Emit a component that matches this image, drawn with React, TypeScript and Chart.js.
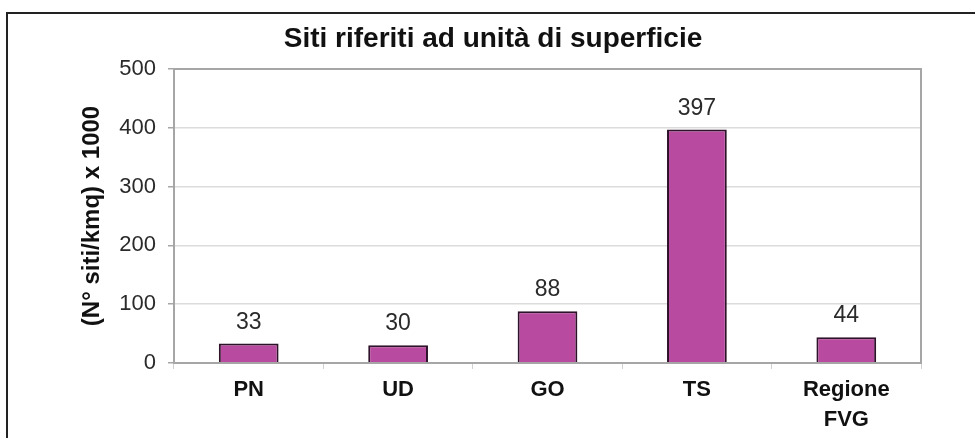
import React, { useEffect, useRef } from "react";
import { Chart, registerables } from "chart.js";

Chart.register(...registerables);

const categories: (string | string[])[] = ["PN", "UD", "GO", "TS", ["Regione", "FVG"]];
const values: number[] = [33, 30, 88, 397, 44];
const yTicks: number[] = [0, 100, 200, 300, 400, 500];
const titleText = "Siti riferiti ad unità di superficie";
const yAxisTitle = "(N° siti/kmq) x 1000";

const FONT = "'Liberation Sans', Arial, Helvetica, sans-serif";

export default function App() {
  const ref = useRef<HTMLCanvasElement | null>(null);

  useEffect(() => {
    if (!ref.current) return;
    const extras = {
      id: "extras",
      afterDraw(chart: any) {
        const { ctx, chartArea } = chart;
        ctx.save();
        ctx.strokeStyle = "#a6a6a6";
        ctx.lineWidth = 2;
        ctx.strokeRect(chartArea.left, chartArea.top, chartArea.right - chartArea.left, chartArea.bottom - chartArea.top);
        ctx.fillStyle = "#111";
        ctx.font = `bold 28px ${FONT}`;
        ctx.textAlign = "center";
        ctx.textBaseline = "alphabetic";
        ctx.fillText(titleText, 493, 47);
        ctx.restore();
      },
      afterDatasetsDraw(chart: any) {
        const { ctx } = chart;
        const meta = chart.getDatasetMeta(0);
        ctx.save();
        ctx.fillStyle = "#2a2a2a";
        ctx.font = `23px ${FONT}`;
        ctx.textAlign = "center";
        ctx.textBaseline = "alphabetic";
        meta.data.forEach((bar: any, i: number) => {
          ctx.fillText(String(values[i]), bar.x, bar.y - 15);
        });
        ctx.restore();
      },
    };

    const chart = new Chart(ref.current, {
      type: "bar",
      data: {
        labels: categories,
        datasets: [
          {
            data: values,
            backgroundColor: "#b84a9f",
            borderColor: "#2e1229",
            borderWidth: 2,
            barPercentage: 0.4,
            categoryPercentage: 1,
          },
        ],
      },
      options: {
        responsive: false,
        animation: false,
        layout: { padding: { left: 0, right: 54, top: 69, bottom: 0 } },
        plugins: {
          legend: { display: false },
          title: { display: false },
          tooltip: { enabled: false },
        },
        scales: {
          x: {
            afterFit: (s: any) => {
              s.height = 75;
            },
            grid: {
              display: true,
              drawOnChartArea: false,
              drawTicks: true,
              tickLength: 6,
              color: "#d0d0d0",
            },
            border: { display: true, color: "#a6a6a6", width: 2 },
            ticks: {
              color: "#111",
              padding: 6,
              font: { family: FONT, size: 22, weight: "bold", lineHeight: 1.35 },
              maxRotation: 0,
              autoSkip: false,
            },
          },
          y: {
            min: 0,
            max: 500,
            afterFit: (s: any) => {
              s.width = 174;
            },
            afterBuildTicks: (s: any) => {
              s.ticks = yTicks.map((v) => ({ value: v }));
            },
            grid: {
              color: "#dcdcdc",
              lineWidth: 1.5,
              tickLength: 6,
              tickColor: "#a6a6a6",
            },
            border: { display: true, color: "#a6a6a6", width: 2 },
            ticks: {
              color: "#2a2a2a",
              padding: 12,
              font: { family: FONT, size: 22 },
            },
            title: {
              display: true,
              text: yAxisTitle,
              color: "#111",
              font: { family: FONT, size: 24, weight: "bold" },
              padding: { top: 78, bottom: 0 },
            },
          },
        },
      },
      plugins: [extras],
    });
    return () => chart.destroy();
  }, []);

  return (
    <div style={{ position: "fixed", left: 0, top: 0, width: 975, height: 438, background: "#fff", overflow: "hidden" }}>
      <div
        style={{
          position: "absolute",
          left: 6,
          top: 12,
          width: 1000,
          height: 500,
          borderTop: "2px solid #222",
          borderLeft: "2px solid #222",
        }}
      />
      <canvas ref={ref} width={975} height={438} style={{ position: "absolute", left: 0, top: 0 }} />
    </div>
  );
}
